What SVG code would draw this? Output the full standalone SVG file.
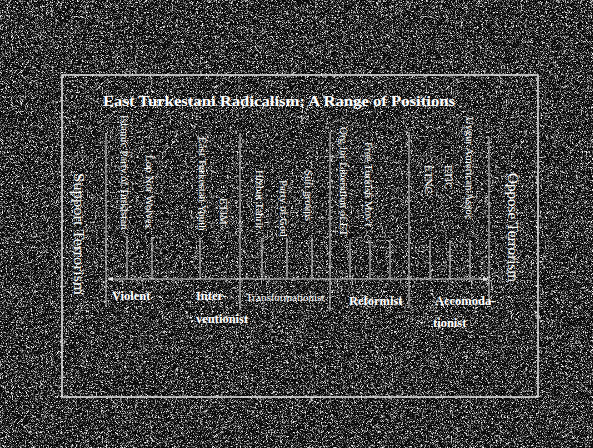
<svg xmlns="http://www.w3.org/2000/svg" width="593" height="448" viewBox="0 0 593 448">
  <defs>
    <filter id="noise" x="0" y="0" width="593" height="448" filterUnits="userSpaceOnUse">
      <feTurbulence type="fractalNoise" baseFrequency="2.2" numOctaves="1" seed="7" result="t"/>
      <feColorMatrix in="t" type="matrix" values="0 0 0 0 1  0 0 0 0 1  0 0 0 0 1  4 0 0 0 -1.95"/>
    </filter>
    <marker id="ah" viewBox="0 0 8 8" refX="7" refY="4" markerWidth="6" markerHeight="6" orient="auto-start-reverse">
      <path d="M0,1 L8,4 L0,7 Z" fill="#e8e8e8"/>
    </marker>
    <style>
      .ln { stroke: #d8d8d8; stroke-width: 1; fill: none; }
      .fr { stroke: #e6e6e6; stroke-width: 1.5; fill: none; }
      .v { font-family: "Liberation Serif", "Times New Roman", serif; font-size: 11px; fill: #ffffff; }
      .side { font-family: "Liberation Serif", "Times New Roman", serif; font-size: 15px; fill: #ffffff; }
      .title { font-family: "Liberation Serif", "Times New Roman", serif; font-size: 15px; font-weight: bold; fill: #ffffff; }
      .cat { font-family: "Liberation Serif", "Times New Roman", serif; font-size: 12.5px; font-weight: bold; fill: #ffffff; }
      .catn { font-family: "Liberation Serif", "Times New Roman", serif; font-size: 11px; fill: #ffffff; }
    </style>
  </defs>

  <rect x="0" y="0" width="593" height="448" fill="#0a0a0a"/>
  <rect x="0" y="0" width="593" height="448" filter="url(#noise)"/>

  <g id="frame">
    <rect class="fr" x="62" y="75" width="476" height="322"/>
    <line class="ln" x1="106" y1="133" x2="106" y2="307"/>
    <line class="ln" x1="240" y1="133" x2="240" y2="310"/>
    <line class="ln" x1="330" y1="133" x2="330" y2="310"/>
    <line class="ln" x1="409" y1="132" x2="409" y2="307"/>
    <line class="ln" x1="489" y1="137" x2="489" y2="305"/>
  </g>

  <g id="title">
    <text class="title" x="103" y="106" textLength="352" lengthAdjust="spacingAndGlyphs">East Turkestani Radicalism: A Range of Positions</text>
  </g>

  <g id="connectors">
    <line class="ln" x1="108" y1="279" x2="488" y2="279" marker-start="url(#ah)" marker-end="url(#ah)"/>
    <line class="ln" x1="127" y1="238" x2="127" y2="279"/>
    <line class="ln" x1="152" y1="238" x2="152" y2="279"/>
    <line class="ln" x1="200" y1="238" x2="200" y2="279"/>
    <line class="ln" x1="262" y1="238" x2="262" y2="279"/>
    <line class="ln" x1="287" y1="238" x2="287" y2="279"/>
    <line class="ln" x1="312" y1="238" x2="312" y2="279"/>
    <line class="ln" x1="350" y1="240" x2="350" y2="279"/>
    <line class="ln" x1="370" y1="240" x2="370" y2="279"/>
    <line class="ln" x1="390" y1="240" x2="390" y2="279"/>
    <line class="ln" x1="430" y1="240" x2="430" y2="279"/>
    <line class="ln" x1="450" y1="240" x2="450" y2="279"/>
    <line class="ln" x1="470" y1="240" x2="470" y2="279"/>
  </g>

  <g id="support-terrorism"><text class="side" transform="translate(74,173) rotate(90)" textLength="122" lengthAdjust="spacingAndGlyphs">Support Terrorism</text></g>
  <g id="oppose-terrorism"><text class="side" transform="translate(508,173) rotate(90)" textLength="109" lengthAdjust="spacingAndGlyphs">Oppose Terrorism</text></g>

  <g id="islamic-party"><text class="v" transform="translate(121,115) rotate(90)">Islamic Party of Turkistan</text></g>
  <g id="lop-nor"><text class="v" transform="translate(146,155) rotate(90)">Lop Nor Wolves</text></g>
  <g id="et-youth"><text class="v" transform="translate(199,137) rotate(90)">East Turkestan Youth</text></g>
  <g id="etim"><text class="v" transform="translate(219.5,198) rotate(90)">ETIM</text></g>
  <g id="hizbut"><text class="v" transform="translate(256,170) rotate(90)">Hizbut Tahrir</text></g>
  <g id="party-of-god"><text class="v" transform="translate(279.5,180) rotate(90)">Party of God</text></g>
  <g id="sufi"><text class="v" transform="translate(304.5,170) rotate(90)">Sufi groups</text></g>
  <g id="org-liberation"><text class="v" transform="translate(340,127) rotate(90)">Org for Liberation of ET</text></g>
  <g id="free-turkish"><text class="v" transform="translate(364.5,142) rotate(90)">Free Turkish Mov't</text></g>
  <g id="etnc"><text class="v" transform="translate(425,165) rotate(90)">ETNC</text></g>
  <g id="etic"><text class="v" transform="translate(445,165) rotate(90)">ETIC</text></g>
  <g id="uygur-american"><text class="v" transform="translate(466,117) rotate(90)">Uygur American Assoc</text></g>

  <g id="violent"><text class="cat" x="112" y="300">Violent</text></g>
  <g id="interventionist"><text class="cat" x="196" y="300">Inter-</text><text class="cat" x="196" y="323">ventionist</text></g>
  <g id="transformationist"><text class="catn" x="246" y="301">Transformationist</text></g>
  <g id="reformist"><text class="cat" x="349" y="305">Reformist</text></g>
  <g id="accomodationist"><text class="cat" x="435" y="305">Accomoda-</text><text class="cat" x="433" y="327">tionist</text></g>
</svg>
